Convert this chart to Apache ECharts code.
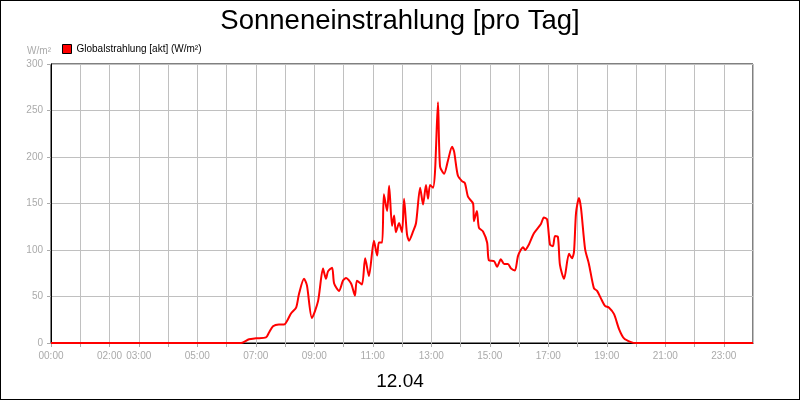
<!DOCTYPE html><html><head><meta charset="utf-8">
<script src="https://cdn.jsdelivr.net/npm/echarts@6/dist/echarts.min.js"></script>
<style>html,body{margin:0;padding:0}#c{width:798px;height:398px;border:1px solid #000}</style></head><body><div id="c"></div><script>
const hours=[0,6.5,6.77,7.01,7.35,7.45,7.59,7.79,7.97,8.21,8.38,8.48,8.65,8.75,8.92,9.13,9.30,9.40,9.47,9.61,9.68,9.85,9.98,10.09,10.26,10.39,10.46,10.63,10.74,10.87,11.04,11.15,11.21,11.32,11.38,11.49,11.56,11.66,11.73,11.79,11.90,12.00,12.07,12.17,12.24,12.38,12.48,12.62,12.72,12.82,12.89,12.96,13.06,13.13,13.23,13.30,13.44,13.57,13.71,13.78,13.91,14.05,14.15,14.26,14.43,14.46,14.56,14.63,14.77,14.91,14.97,15.15,15.25,15.38,15.49,15.62,15.73,15.86,15.97,16.14,16.21,16.34,16.51,16.75,16.85,16.96,17.06,17.16,17.23,17.33,17.40,17.54,17.71,17.81,17.88,17.95,18.05,18.12,18.26,18.39,18.56,18.67,18.80,18.94,19.08,19.25,19.42,19.59,19.83,20.00,24];
const values=[0,0,4,5,6,11,18,20,20,32,38,53,69,62,27,45,80,69,77,81,64,56,67,70,64,51,67,63,91,72,110,94,108,108,160,142,169,126,137,119,129,119,155,117,110,120,129,167,149,170,155,170,167,185,259,190,182,196,211,206,180,174,172,157,150,131,142,124,120,108,89,88,82,90,85,85,80,78,94,103,100,106,118,128,135,133,106,104,115,114,84,69,96,91,98,140,156,145,101,85,59,56,48,40,38,31,15,5,1,0,0];
const labelHours=[0,2,3,5,7,9,11,13,15,17,19,21,23];
const title='Sonneneinstrahlung [pro Tag]', dateLabel='12.04', seriesName='Globalstrahlung [akt] (W/m²)', unit='W/m²';
const pad=n=>(n<10?'0':'')+n+':00';
const ch=echarts.init(document.getElementById('c'));
ch.setOption({animation:false,
title:[{text:title,left:'center',top:1,textStyle:{fontFamily:'Arial, Liberation Sans',fontSize:27.5,fontWeight:'normal',color:'#000'}},
{text:dateLabel,left:'center',top:366,textStyle:{fontFamily:'Arial, Liberation Sans',fontSize:19,fontWeight:'normal',color:'#000'}}],
legend:{left:56,top:38,itemWidth:9,itemHeight:9,itemGap:4,icon:'rect',textStyle:{fontFamily:'Arial, Liberation Sans',fontSize:10,color:'#000'},data:[{name:seriesName,itemStyle:{color:'#f00',borderColor:'#000',borderWidth:1}}]},
grid:{left:50,right:46,top:63,bottom:56,show:true,borderColor:'#000',borderWidth:1},
xAxis:{type:'value',min:0,max:24,interval:1,axisLine:{lineStyle:{color:'#000'}},axisTick:{show:true,length:4,lineStyle:{color:'#aaa'}},
 splitLine:{lineStyle:{color:'#c0c0c0'}},axisLabel:{color:'#aaa',fontSize:10,fontFamily:'Arial, Liberation Sans',showMaxLabel:false,formatter:v=>labelHours.includes(v)?pad(v):''}},
yAxis:{type:'value',min:0,max:300,interval:50,name:unit,nameGap:8,nameTextStyle:{color:'#aaa',fontSize:10,align:'right'},
 axisLine:{show:true,lineStyle:{color:'#000'}},axisTick:{show:true,length:4,lineStyle:{color:'#aaa'}},splitLine:{lineStyle:{color:'#c0c0c0'}},axisLabel:{color:'#aaa',fontSize:10,fontFamily:'Arial, Liberation Sans'}},
series:[{name:seriesName,type:'line',smooth:0.25,showSymbol:false,symbol:'none',color:'#f00',lineStyle:{color:'#f00',width:2},data:hours.map((h,i)=>[h,values[i]])}]
});
</script></body></html>
